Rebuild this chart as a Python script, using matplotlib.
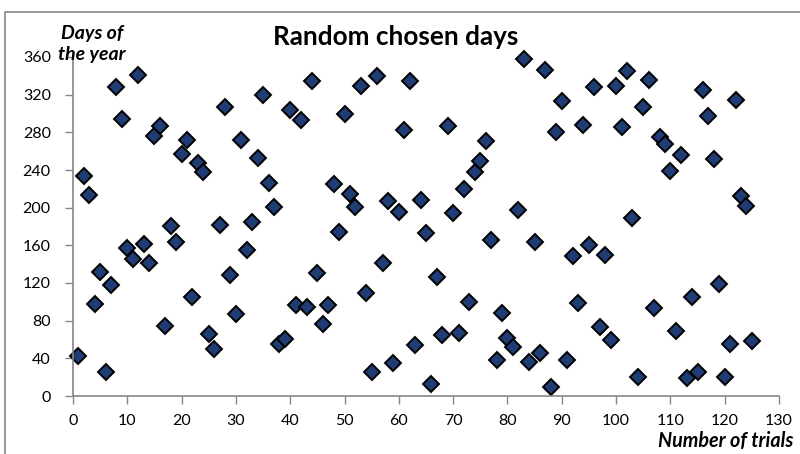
import numpy as np
import matplotlib.pyplot as plt
from matplotlib.patches import Rectangle

# trial numbers and the day picked in each trial
trials = np.arange(1, 126)
days = [42, 234, 213, 98, 132, 26, 118, 328, 294, 157,
        145, 341, 161, 141, 276, 287, 74, 181, 164, 257,
        272, 105, 247, 238, 66, 50, 182, 307, 128, 87,
        272, 155, 185, 253, 320, 226, 201, 55, 61, 304,
        97, 293, 94, 334, 131, 76, 97, 225, 174, 300,
        214, 201, 329, 109, 26, 340, 141, 207, 35, 195,
        282, 335, 54, 208, 173, 13, 126, 65, 287, 194,
        67, 220, 100, 238, 250, 271, 166, 38, 88, 62,
        52, 197, 358, 36, 164, 46, 346, 10, 280, 313,
        38, 149, 99, 288, 160, 328, 73, 150, 59, 329,
        286, 345, 189, 20, 307, 336, 93, 275, 268, 239,
        69, 256, 19, 105, 25, 325, 297, 252, 119, 20,
        55, 314, 212, 202, 58]

xticks = np.arange(0, 131, 10)
yticks = np.arange(0, 361, 40)

plt.rcParams['font.family'] = ['Lato', 'DejaVu Sans']

fig = plt.figure(figsize=(8, 4.54), dpi=100)
ax = fig.add_axes([73 / 800, 58 / 454, 706 / 800, 339 / 454])

ax.plot(trials, days, linestyle='none', marker='D', markersize=8.5,
        markerfacecolor='#1f3c74', markeredgecolor='black', markeredgewidth=1.4,
        clip_on=False)

ax.set_xlim(0, 130)
ax.set_ylim(0, 360)
ax.set_xticks(xticks)
ax.set_yticks(yticks)
ax.tick_params(colors='#868686', labelcolor='black', labelsize=11.5, length=6, width=1)
ax.tick_params(axis='y', pad=10)
ax.tick_params(axis='x', pad=7)
for s in ['top', 'right']:
    ax.spines[s].set_visible(False)
for s in ['left', 'bottom']:
    ax.spines[s].set_color('#868686')
    ax.spines[s].set_linewidth(1.2)

fig.text(396 / 800, 1 - 37 / 454, 'Random chosen days', ha='center', va='center',
         fontsize=18.8, fontweight='bold')
fig.text(92 / 800, 1 - 44 / 454, 'Days of\nthe year', ha='center', va='center',
         ma='center', fontsize=14, fontweight='bold', fontstyle='italic', linespacing=1.3)
fig.text(793 / 800, 1 - 441 / 454, 'Number of trials', ha='right', va='center',
         fontsize=14.2, fontweight='bold', fontstyle='italic')

# chart frame
fig.patches.append(Rectangle((5 / 800, -0.1), 1.1, 1 - 12 / 454 + 0.1,
                             transform=fig.transFigure, fill=False,
                             edgecolor='#868686', linewidth=1.2))

fig.savefig('out.png', dpi=100)
